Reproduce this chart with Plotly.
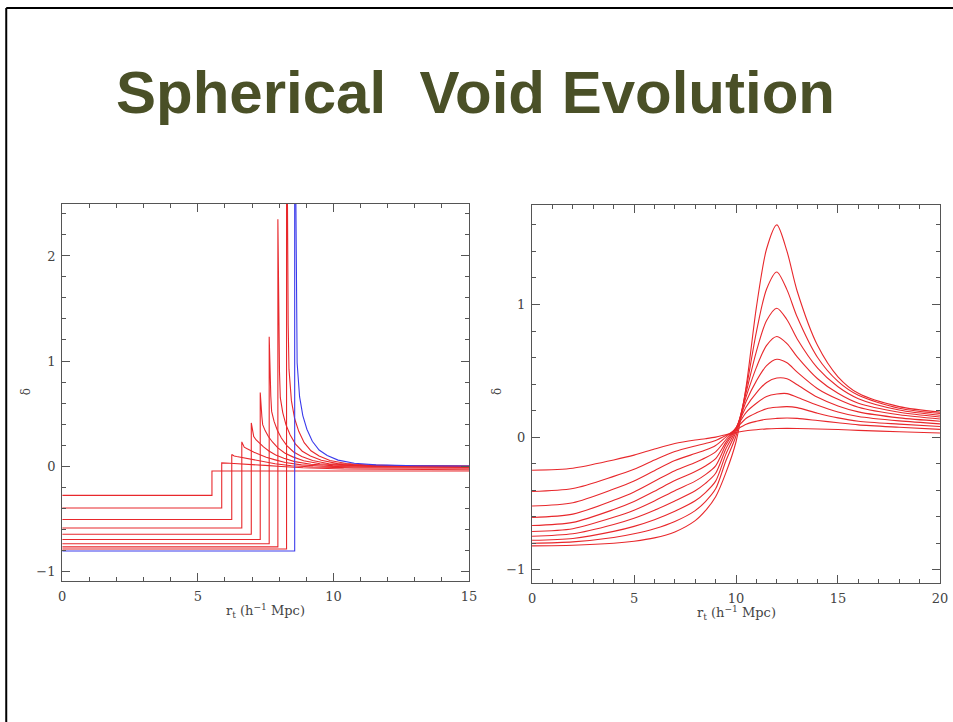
import plotly.graph_objects as go

# ---------------- text ----------------
TITLE = "Spherical\u00a0 Void Evolution"
X_LABEL = "r<sub>t</sub> (h<sup>−1</sup> Mpc)"
Y_LABEL = "δ"

# ---------------- left panel data ----------------
LEFT_X_TICKS = [0, 5, 10, 15]
LEFT_Y_TICKS = [-1, 0, 1, 2]
LEFT_EDGE = [5.52, 5.88, 6.25, 6.62, 6.97, 7.30, 7.63, 7.95, 8.27]
LEFT_INNER = [-0.28, -0.40, -0.51, -0.59, -0.65, -0.70, -0.74, -0.77, -0.79]
LEFT_TAIL_DX = [0, 0.03, 0.06, 0.09, 0.18, 0.3, 0.45, 0.65, 0.9, 1.2, 1.6, 2.2, 3.0, 4.5]
LEFT_TAIL_1 = [-0.048] * 14
LEFT_TAIL_2 = [0.030, 0.029, 0.028, 0.028, 0.028, 0.026, 0.0235, 0.021, 0.017, 0.015, 0.006, -0.005, -0.017, -0.029]
LEFT_TAIL_3 = [0.110, 0.104, 0.101, 0.096, 0.091, 0.085, 0.078, 0.067, 0.054, 0.040, 0.022, 0.002, -0.010, -0.018]
LEFT_TAIL_4 = [0.230, 0.210, 0.197, 0.180, 0.167, 0.150, 0.132, 0.109, 0.083, 0.061, 0.034, 0.011, -0.002, -0.010]
LEFT_TAIL_5 = [0.410, 0.351, 0.319, 0.280, 0.248, 0.216, 0.182, 0.143, 0.105, 0.074, 0.042, 0.017, 0.004, -0.004]
LEFT_TAIL_6 = [0.700, 0.547, 0.472, 0.394, 0.337, 0.281, 0.229, 0.173, 0.124, 0.087, 0.050, 0.021, 0.0075, -0.001]
LEFT_TAIL_7 = [1.230, 0.824, 0.665, 0.520, 0.425, 0.340, 0.266, 0.194, 0.134, 0.091, 0.052, 0.022, 0.008, 0.000]
LEFT_TAIL_8 = [2.350, 1.210, 0.896, 0.651, 0.509, 0.392, 0.297, 0.209, 0.141, 0.096, 0.054, 0.023, 0.009, 0.001]
LEFT_TAIL_9 = [4.000, 2.400, 1.350, 0.920, 0.620, 0.450, 0.330, 0.222, 0.145, 0.096, 0.053, 0.024, 0.010, 0.002]
LEFT_TAILS = [LEFT_TAIL_1, LEFT_TAIL_2, LEFT_TAIL_3, LEFT_TAIL_4, LEFT_TAIL_5,
              LEFT_TAIL_6, LEFT_TAIL_7, LEFT_TAIL_8, LEFT_TAIL_9]
LEFT_FAR = [-0.048, -0.035, -0.022, -0.013, -0.007, -0.004, -0.003, -0.002, -0.001]
LEFT_R_MAX = 15

BLUE_EDGE = 8.57
BLUE_INNER = -0.81
BLUE_TAIL = [4.000, 2.600, 1.450, 0.980, 0.660, 0.480, 0.350, 0.235, 0.152, 0.100, 0.056, 0.026, 0.011, 0.003]
BLUE_FAR = 0.0

# ---------------- right panel data ----------------
RIGHT_X_TICKS = [0, 5, 10, 15, 20]
RIGHT_Y_TICKS = [-1, 0, 1]
RIGHT_R = [0, 2, 4, 5, 6, 7, 8, 8.5, 9, 9.5, 10, 10.5, 11, 11.5, 12, 12.5, 13, 14, 15, 16, 18, 20]
RIGHT_1 = [-0.250, -0.235, -0.172, -0.136, -0.090, -0.048, -0.022, -0.012, 0.000, 0.018, 0.035, 0.048, 0.056, 0.062, 0.065, 0.066, 0.065, 0.061, 0.057, 0.051, 0.040, 0.031]
RIGHT_2 = [-0.410, -0.388, -0.296, -0.242, -0.173, -0.109, -0.067, -0.048, -0.025, 0.012, 0.055, 0.097, 0.119, 0.135, 0.141, 0.144, 0.141, 0.125, 0.108, 0.092, 0.074, 0.058]
RIGHT_3 = [-0.520, -0.495, -0.392, -0.331, -0.253, -0.177, -0.124, -0.098, -0.063, 0.000, 0.065, 0.142, 0.183, 0.214, 0.225, 0.230, 0.222, 0.180, 0.145, 0.120, 0.098, 0.080]
RIGHT_4 = [-0.606, -0.581, -0.476, -0.413, -0.333, -0.253, -0.191, -0.156, -0.111, -0.020, 0.070, 0.187, 0.255, 0.306, 0.325, 0.328, 0.300, 0.240, 0.190, 0.155, 0.122, 0.100]
RIGHT_5 = [-0.667, -0.643, -0.546, -0.485, -0.408, -0.328, -0.260, -0.218, -0.163, -0.040, 0.070, 0.229, 0.334, 0.412, 0.445, 0.440, 0.395, 0.300, 0.235, 0.190, 0.145, 0.120]
RIGHT_6 = [-0.712, -0.691, -0.605, -0.551, -0.481, -0.404, -0.332, -0.283, -0.217, -0.060, 0.065, 0.270, 0.424, 0.539, 0.587, 0.560, 0.490, 0.365, 0.285, 0.225, 0.168, 0.137]
RIGHT_7 = [-0.747, -0.729, -0.659, -0.612, -0.551, -0.481, -0.404, -0.349, -0.273, -0.090, 0.055, 0.307, 0.526, 0.692, 0.759, 0.705, 0.605, 0.440, 0.330, 0.255, 0.188, 0.152]
RIGHT_8 = [-0.778, -0.764, -0.711, -0.673, -0.623, -0.559, -0.480, -0.418, -0.332, -0.130, 0.040, 0.339, 0.647, 0.879, 0.972, 0.885, 0.740, 0.520, 0.380, 0.290, 0.205, 0.165]
RIGHT_9 = [-0.800, -0.790, -0.757, -0.729, -0.691, -0.636, -0.554, -0.486, -0.390, -0.180, 0.010, 0.367, 0.794, 1.117, 1.245, 1.110, 0.905, 0.600, 0.420, 0.315, 0.218, 0.178]
RIGHT_10 = [-0.820, -0.815, -0.800, -0.785, -0.760, -0.715, -0.630, -0.555, -0.450, -0.270, -0.035, 0.385, 0.980, 1.420, 1.600, 1.400, 1.100, 0.690, 0.455, 0.330, 0.230, 0.188]
RIGHT_SERIES = [RIGHT_1, RIGHT_2, RIGHT_3, RIGHT_4, RIGHT_5,
                RIGHT_6, RIGHT_7, RIGHT_8, RIGHT_9, RIGHT_10]

# ---------------- styling ----------------
W, H = 953, 722
RED = "rgb(232,40,44)"
BLUE = "rgb(60,60,235)"
AXIS = "#555555"
TXT = "#444444"
TITLE_COLOR = "#4A5027"
TICK_FONT = dict(family="DejaVu Serif", size=13, color=TXT)
# measured horizontal mapping of the rendered page (offset, scale)
OFF_X, SCALE_X = 3.76, 0.9877

fig = go.Figure()

# left panel
for edge, inner, tail, far in zip(LEFT_EDGE, LEFT_INNER, LEFT_TAILS, LEFT_FAR):
    xs = [0, edge, edge] + [edge + d for d in LEFT_TAIL_DX[1:]] + [LEFT_R_MAX]
    ys = [inner, inner, tail[0]] + tail[1:] + [far]
    fig.add_trace(go.Scatter(x=xs, y=ys, mode="lines", line=dict(color=RED, width=1.1),
                             xaxis="x", yaxis="y", hoverinfo="skip"))
xs = [0, BLUE_EDGE, BLUE_EDGE] + [BLUE_EDGE + d for d in LEFT_TAIL_DX[1:]] + [LEFT_R_MAX]
ys = [BLUE_INNER, BLUE_INNER, BLUE_TAIL[0]] + BLUE_TAIL[1:] + [BLUE_FAR]
fig.add_trace(go.Scatter(x=xs, y=ys, mode="lines", line=dict(color=BLUE, width=1.1),
                         xaxis="x", yaxis="y", hoverinfo="skip"))

# right panel
for ser in RIGHT_SERIES:
    fig.add_trace(go.Scatter(x=RIGHT_R, y=ser, mode="lines",
                             line=dict(color=RED, width=1.1, shape="spline", smoothing=0.8),
                             xaxis="x2", yaxis="y2", hoverinfo="skip"))


def px_x(p):
    return (p - OFF_X) / SCALE_X / W


def px_y(p):
    return 1 - p / H


def axis_common(ticks, minor_dtick, rng, domain, anchor):
    return dict(
        range=rng, domain=domain, anchor=anchor,
        tickmode="array", tickvals=ticks, ticktext=[str(t).replace("-", "−") for t in ticks],
        ticks="inside", ticklen=8, tickwidth=1, tickcolor=AXIS,
        minor=dict(dtick=minor_dtick, ticks="inside", ticklen=4, tickwidth=1, tickcolor=AXIS,
                   showgrid=False),
        showline=True, linecolor=AXIS, linewidth=1.3, mirror="allticks",
        showgrid=False, zeroline=False, tickfont=TICK_FONT, ticklabelstandoff=3,
    )


L_DOM_X = [px_x(62), px_x(469)]
L_DOM_Y = [px_y(581), px_y(204)]
R_DOM_X = [px_x(532), px_x(940)]
R_DOM_Y = [px_y(583), px_y(205)]

fig.update_layout(
    width=W, height=H, margin=dict(l=0, r=0, t=0, b=0),
    paper_bgcolor="white", plot_bgcolor="white", showlegend=False,
    xaxis=axis_common(LEFT_X_TICKS, 1, [0, 15], L_DOM_X, "y"),
    yaxis=axis_common(LEFT_Y_TICKS, 0.2, [-1.095, 2.495], L_DOM_Y, "x"),
    xaxis2=axis_common(RIGHT_X_TICKS, 1, [0, 20], R_DOM_X, "y2"),
    yaxis2=axis_common(RIGHT_Y_TICKS, 0.2, [-1.1, 1.75], R_DOM_Y, "x2"),
)

ann = [
    dict(text="<b>" + TITLE + "</b>", x=px_x(475), y=px_y(92), xref="paper", yref="paper",
         xanchor="center", yanchor="middle", showarrow=False,
         font=dict(family="Liberation Sans", size=60, color=TITLE_COLOR)),
    dict(text=X_LABEL, x=(L_DOM_X[0] + L_DOM_X[1]) / 2, y=px_y(611), xref="paper", yref="paper",
         xanchor="center", yanchor="middle", showarrow=False,
         font=dict(family="DejaVu Serif", size=13, color=TXT)),
    dict(text=X_LABEL, x=(R_DOM_X[0] + R_DOM_X[1]) / 2, y=px_y(613), xref="paper", yref="paper",
         xanchor="center", yanchor="middle", showarrow=False,
         font=dict(family="DejaVu Serif", size=13, color=TXT)),
    dict(text=Y_LABEL, x=px_x(26), y=px_y(392), xref="paper", yref="paper", textangle=-90,
         xanchor="center", yanchor="middle", showarrow=False,
         font=dict(family="DejaVu Serif", size=12, color=TXT)),
    dict(text=Y_LABEL, x=px_x(497), y=px_y(392), xref="paper", yref="paper", textangle=-90,
         xanchor="center", yanchor="middle", showarrow=False,
         font=dict(family="DejaVu Serif", size=12, color=TXT)),
]
fig.update_layout(annotations=ann)

# slide frame (top and left border lines)
fig.update_layout(shapes=[
    dict(type="line", xref="paper", yref="paper", x0=px_x(6), x1=1.02, y0=px_y(8), y1=px_y(8),
         line=dict(color="black", width=2)),
    dict(type="line", xref="paper", yref="paper", x0=px_x(6), x1=px_x(6), y0=px_y(8), y1=0,
         line=dict(color="black", width=2)),
])

fig.write_html("out.html")
